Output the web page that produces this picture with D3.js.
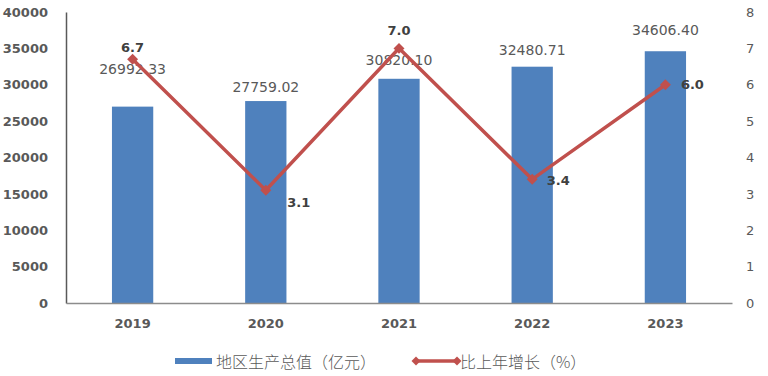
<!DOCTYPE html>
<html>
<head>
<meta charset="utf-8">
<script src="https://cdn.jsdelivr.net/npm/d3@7"></script>
<style>
  body { margin: 0; background: #fff; }
  svg text { font-family: "DejaVu Sans", "Noto Sans CJK SC", sans-serif; }
</style>
</head>
<body>
<div id="chart"></div>
<script>
const years = ["2019", "2020", "2021", "2022", "2023"];
const gdp = [26992.33, 27759.02, 30820.10, 32480.71, 34606.40];
const growth = [6.7, 3.1, 7.0, 3.4, 6.0];
const leftTicks = [0, 5000, 10000, 15000, 20000, 25000, 30000, 35000, 40000];
const rightTicks = [0, 1, 2, 3, 4, 5, 6, 7, 8];

const width = 768, height = 376;
const margin = { top: 12, right: 36, bottom: 73, left: 66 };

// label placement (dx, dy relative to the point), as in the original
const gdpLabelDy = [-33, -9, -14, -12, -16];
const growthLabelPos = [[0, -12], [33, 12], [0, -18], [26, 1], [27, 0]];

const svg = d3.select("#chart").append("svg")
  .attr("width", width).attr("height", height);

const x = d3.scaleBand().domain(years)
  .range([margin.left, width - margin.right]).paddingInner(0.69).paddingOuter(0.345);
const yL = d3.scaleLinear().domain([0, 40000]).range([height - margin.bottom, margin.top]);
const yR = d3.scaleLinear().domain([0, 8]).range([height - margin.bottom, margin.top]);

const grey = "#595959";

// left axis
const axL = svg.append("g").attr("transform", `translate(${margin.left},0)`)
  .call(d3.axisLeft(yL).tickValues(leftTicks).tickFormat(d3.format("d")).tickSize(0).tickPadding(18));
axL.select(".domain").attr("stroke", "#595959").attr("stroke-width", 1.5);
axL.selectAll("text").attr("fill", grey).attr("font-size", 13).attr("font-weight", "bold");

// right axis (labels only)
const axR = svg.append("g").attr("transform", `translate(${width - margin.right},0)`)
  .call(d3.axisRight(yR).tickValues(rightTicks).tickSize(0).tickPadding(14));
axR.select(".domain").remove();
axR.selectAll("text").attr("fill", grey).attr("font-size", 13);

// bars
svg.append("g").selectAll("rect").data(gdp).join("rect")
  .attr("x", (d, i) => x(years[i]))
  .attr("y", d => yL(d))
  .attr("width", x.bandwidth())
  .attr("height", d => yL(0) - yL(d))
  .attr("fill", "#4F81BD");

// bottom axis
const axB = svg.append("g").attr("transform", `translate(0,${height - margin.bottom})`)
  .call(d3.axisBottom(x).tickSize(0).tickPadding(16));
axB.select(".domain").attr("stroke", "#8c8c8c").attr("stroke-width", 1.5);
axB.selectAll("text").attr("fill", grey).attr("font-size", 13).attr("font-weight", "bold");

// bar labels
svg.append("g").selectAll("text").data(gdp).join("text")
  .attr("x", (d, i) => x(years[i]) + x.bandwidth() / 2)
  .attr("y", (d, i) => yL(d) + gdpLabelDy[i])
  .attr("text-anchor", "middle")
  .attr("fill", grey).attr("font-size", 14)
  .text(d => d.toFixed(2));

// line
const cx = (d, i) => x(years[i]) + x.bandwidth() / 2;
const line = d3.line().x(cx).y(d => yR(d));
svg.append("path").datum(growth)
  .attr("d", line).attr("fill", "none")
  .attr("stroke", "#C0504D").attr("stroke-width", 3.5);

svg.append("g").selectAll("path").data(growth).join("path")
  .attr("transform", (d, i) => `translate(${cx(d, i)},${yR(d)}) rotate(45)`)
  .attr("d", d3.symbol(d3.symbolSquare, 60)())
  .attr("fill", "#C0504D");

svg.append("g").selectAll("text").data(growth).join("text")
  .attr("x", (d, i) => cx(d, i) + growthLabelPos[i][0])
  .attr("y", (d, i) => yR(d) + growthLabelPos[i][1])
  .attr("text-anchor", "middle").attr("dominant-baseline", "central")
  .attr("fill", "#404040").attr("font-size", 13).attr("font-weight", "bold")
  .text(d => d.toFixed(1));

// legend
const lg = svg.append("g").attr("transform", `translate(0,361)`);
lg.append("rect").attr("x", 175).attr("y", -3).attr("width", 37).attr("height", 6).attr("fill", "#4F81BD");
lg.append("text").attr("x", 216).attr("y", 0).attr("dominant-baseline", "central")
  .attr("fill", grey).attr("font-size", 16)
  .style("font-family", "'Noto Sans CJK SC', sans-serif").attr("font-weight", 300)
  .text("地区生产总值（亿元）");
lg.append("line").attr("x1", 416).attr("x2", 457).attr("y1", 0).attr("y2", 0)
  .attr("stroke", "#C0504D").attr("stroke-width", 3.5);
lg.selectAll("path").data([416, 457]).join("path")
  .attr("transform", d => `translate(${d},0) rotate(45)`)
  .attr("d", d3.symbol(d3.symbolSquare, 40)())
  .attr("fill", "#C0504D");
lg.append("text").attr("x", 460).attr("y", 0).attr("dominant-baseline", "central")
  .attr("fill", grey).attr("font-size", 16)
  .style("font-family", "'Noto Sans CJK SC', sans-serif").attr("font-weight", 300)
  .text("比上年增长（%）");
</script>
</body>
</html>
